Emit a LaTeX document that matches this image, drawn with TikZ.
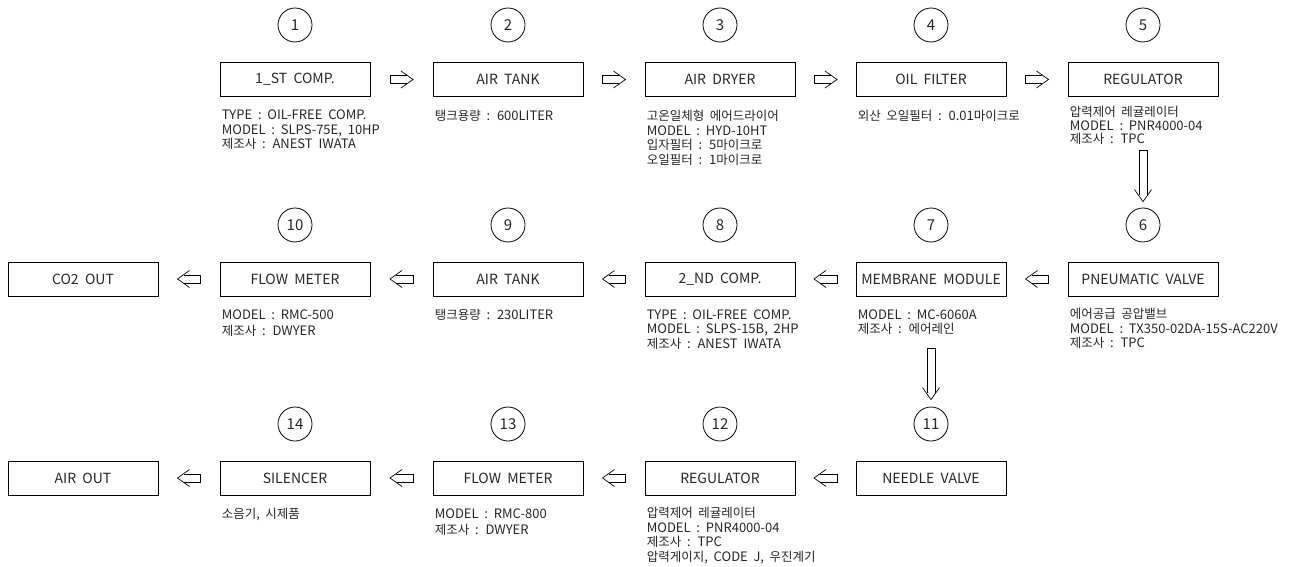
\documentclass[tikz,border=0pt]{standalone}
\usepackage{fontspec}
\setmainfont[WordSpace=2]{Noto Sans CJK KR}
\usetikzlibrary{calc}
\newcommand\hg[1]{{\fontsize{12.5}{14}\selectfont #1}}
\tikzset{
  every node/.style={text=black!85},
  box/.style={draw=black, line width=0.8pt, minimum width=150pt, minimum height=34pt, inner sep=0pt, font=\fontsize{14}{17}\selectfont},
  num/.style={draw=black, circle, line width=0.8pt, minimum size=34pt, inner sep=0pt, font=\fontsize{15}{17}\selectfont},
  desc/.style={anchor=north west, align=left, inner sep=0pt, font=\fontsize{13}{14.5}\selectfont},
  tight/.style={font=\fontsize{13}{13.6}\selectfont},
  pics/flow/.style={code={
    \draw[line width=0.7pt] ({#1*1pt-6.35pt},4pt) -- (-#1pt,4pt) -- (-#1pt,-4pt) -- ({#1*1pt-6.35pt},-4pt);
    \draw[line width=0.7pt] ({#1*1pt-12pt},8.5pt) -- (#1pt,0pt) -- ({#1*1pt-12pt},-8.5pt);
  }}
}
\begin{document}
\begin{tikzpicture}[x=1pt,y=-1pt]
\useasboundingbox (0,0) rectangle (1308,567);
% row 1
\node[box] (b1) at (295,79.5) {1\_ST COMP.};
\node[box] (b2) at (508,79.5) {AIR TANK};
\node[box] (b3) at (720,79.5) {AIR DRYER};
\node[box] (b4) at (931,79.5) {OIL FILTER};
\node[box] (b5) at (1143,79.5) {REGULATOR};
\node[num] (c1) at (295,25) {1};
\node[num] (c2) at (508,25) {2};
\node[num] (c3) at (720,25) {3};
\node[num] (c4) at (931,25) {4};
\node[num] (c5) at (1143,25) {5};
% row 2
\node[box] (co2) at (83,279) {CO2 OUT};
\node[box] (b10) at (295,279) {FLOW METER};
\node[box] (b9) at (508,279) {AIR TANK};
\node[box] (b8) at (720,279) {2\_ND COMP.};
\node[box] (b7) at (931,279) {MEMBRANE MODULE};
\node[box] (b6) at (1143,279) {PNEUMATIC VALVE};
\node[num] (c10) at (295,225) {10};
\node[num] (c9) at (508,225) {9};
\node[num] (c8) at (720,225) {8};
\node[num] (c7) at (931,225) {7};
\node[num] (c6) at (1143,225) {6};
% row 3
\node[box] (aout) at (83,478) {AIR OUT};
\node[box] (b14) at (295,478) {SILENCER};
\node[box] (b13) at (508,478) {FLOW METER};
\node[box] (b12) at (720,478) {REGULATOR};
\node[box] (b11) at (931,478) {NEEDLE VALVE};
\node[num] (c14) at (295,424) {14};
\node[num] (c13) at (508,424) {13};
\node[num] (c12) at (720,424) {12};
\node[num] (c11) at (931,424) {11};
% descriptions
\node[desc] (d1) at ($(b1.south west)+(2pt,-13pt)$) {TYPE : OIL-FREE COMP.\\MODEL : SLPS-75E, 10HP\\\hg{제조사} : ANEST IWATA};
\node[desc] (d2) at ($(b2.south west)+(2pt,-13pt)$) {\hg{탱크용량} : 600LITER};
\node[desc] (d3) at ($(b3.south west)+(2pt,-13pt)$) {\hg{고온일체형 에어드라이어}\\MODEL : HYD-10HT\\\hg{입자필터} : 5\hg{마이크로}\\\hg{오일필터} : 1\hg{마이크로}};
\node[desc] (d4) at ($(b4.south west)+(2pt,-13pt)$) {\hg{외산 오일필터} : 0.01\hg{마이크로}};
\node[desc,tight] (d5) at ($(b5.south west)+(2pt,-9pt)$) {\hg{압력제어 레귤레이터}\\MODEL : PNR4000-04\\\hg{제조사} : TPC};
\node[desc] (d10) at ($(b10.south west)+(2pt,-13pt)$) {MODEL : RMC-500\\[2pt]\hg{제조사} : DWYER};
\node[desc] (d9) at ($(b9.south west)+(2pt,-13pt)$) {\hg{탱크용량} : 230LITER};
\node[desc] (d8) at ($(b8.south west)+(2pt,-13pt)$) {TYPE : OIL-FREE COMP.\\MODEL : SLPS-15B, 2HP\\\hg{제조사} : ANEST IWATA};
\node[desc] (d7) at ($(b7.south west)+(2pt,-13pt)$) {MODEL : MC-6060A\\\hg{제조사} : \hg{에어레인}};
\node[desc] (d6) at ($(b6.south west)+(2pt,-12pt)$) {\hg{에어공급 공압밸브}\\MODEL : TX350-02DA-15S-AC220V\\\hg{제조사} : TPC};
\node[desc] (d14) at ($(b14.south west)+(2pt,-13pt)$) {\hg{소음기, 시제품}};
\node[desc] (d13) at ($(b13.south west)+(2pt,-13pt)$) {MODEL : RMC-800\\[2pt]\hg{제조사} : DWYER};
\node[desc] (d12) at ($(b12.south west)+(2pt,-12pt)$) {\hg{압력제어 레귤레이터}\\MODEL : PNR4000-04\\\hg{제조사} : TPC\\\hg{압력게이지}, CODE J, \hg{우진계기}};
% flow arrows row 1
\pic at ($(b1.east)!0.5!(b2.west)$) {flow=11.5};
\pic at ($(b2.east)!0.5!(b3.west)$) {flow=11.5};
\pic at ($(b3.east)!0.5!(b4.west)$) {flow=11.5};
\pic at ($(b4.east)!0.5!(b5.west)$) {flow=11.5};
% row 2
\pic[rotate=180] at ($(b7.east)!0.5!(b6.west)$) {flow=11.5};
\pic[rotate=180] at ($(b8.east)!0.5!(b7.west)$) {flow=11.5};
\pic[rotate=180] at ($(b9.east)!0.5!(b8.west)$) {flow=11.5};
\pic[rotate=180] at ($(b10.east)!0.5!(b9.west)$) {flow=11.5};
\pic[rotate=180] at ($(co2.east)!0.5!(b10.west)$) {flow=11.5};
% row 3
\pic[rotate=180] at ($(b12.east)!0.5!(b11.west)$) {flow=11.5};
\pic[rotate=180] at ($(b13.east)!0.5!(b12.west)$) {flow=11.5};
\pic[rotate=180] at ($(b14.east)!0.5!(b13.west)$) {flow=11.5};
\pic[rotate=180] at ($(aout.east)!0.5!(b14.west)$) {flow=11.5};
% vertical arrows
\pic[rotate=-90] at ($(c6.north)+(0pt,31.5pt)$) {flow=25.5};
\pic[rotate=-90] at ($(c11.north)+(0pt,32.5pt)$) {flow=25.5};
\end{tikzpicture}
\end{document}
